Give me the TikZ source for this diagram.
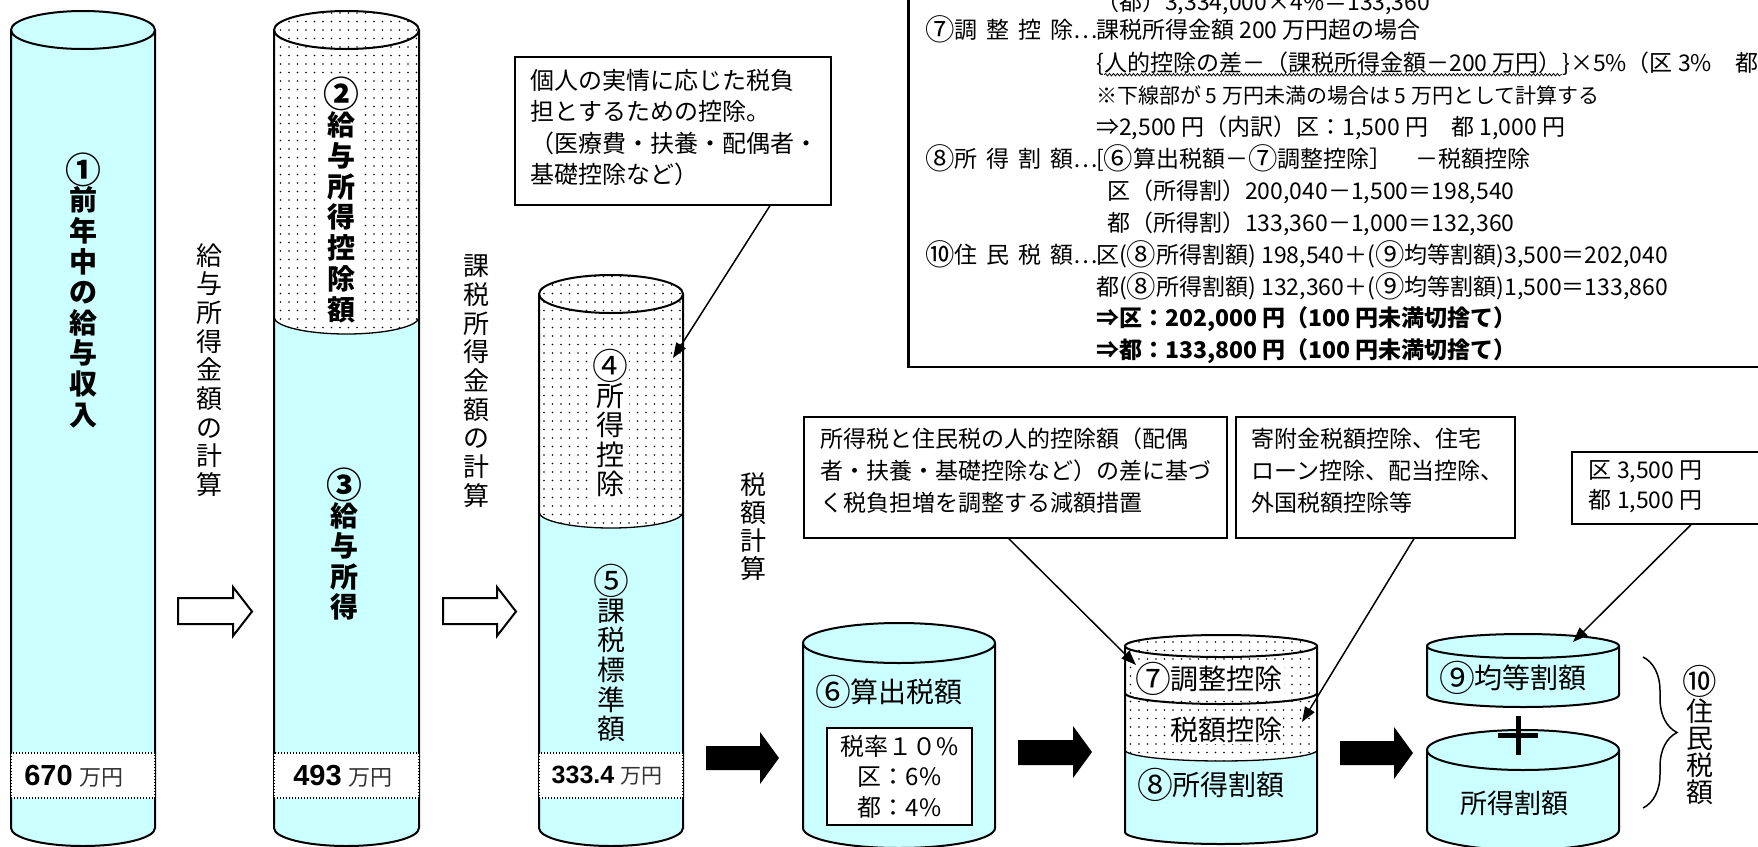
\documentclass[tikz,border=0pt]{standalone}
\usepackage{fontspec}
\setmainfont{Noto Sans CJK JP}
\newfontfamily\arialf{Liberation Sans}
\usetikzlibrary{patterns.meta,arrows.meta,decorations.pathmorphing,decorations.pathreplacing}
\definecolor{cyanc}{RGB}{204,255,255}
\newcommand{\myfs}[2]{\fontsize{#1pt}{#2pt}\selectfont}
\newcommand{\cn}[1]{\raisebox{-0.1em}{\scalebox{1.28}{#1}}}
\newcommand{\cylfill}[7]{\path[#7] ({#1-#2},#3) -- ({#1-#2},#5) arc[start angle=180,end angle=0,x radius=#2,y radius=#6] -- ({#1+#2},#3) arc[start angle=0,end angle=-180,x radius=#2,y radius=#4] -- cycle;}
\newcommand{\cylout}[6]{\draw[cyl] ({#1-#2},#3) -- ({#1-#2},#5) arc[start angle=180,end angle=0,x radius=#2,y radius=#6] -- ({#1+#2},#3);}
\newcommand{\cyltop}[5]{\path[#5] (#1,#3) ellipse[x radius=#2,y radius=#4];}
\newcommand{\cylarc}[5]{\draw[#5] ({#1-#2},#3) arc[start angle=180,end angle=0,x radius=#2,y radius=#4];}
\tikzset{
  cyl/.style={line width=2pt, line join=round},
  cyanf/.style={fill=cyanc},
  dotf/.style={fill=white, postaction={pattern={Dots[distance=8.5pt,radius=0.85pt]}}},
  band/.style={fill=white, draw, line width=1.3pt, dash pattern=on 1.4pt off 1.6pt},
  hollow/.style={draw, line width=2pt, fill=white, line join=miter},
  callout/.style={draw, line width=1.8pt, fill=white, anchor=north west},
  callarr/.style={line width=1.5pt, -{Triangle[length=15pt,width=11pt]}},
  vlabel/.style={align=center, inner sep=1pt},
  hlabel/.style={inner sep=1pt},
  tline/.style={anchor=west, inner sep=0pt, text height=20pt, text depth=3pt, font=\myfs{23}{28}},
}
\begin{document}
\begin{tikzpicture}[x=1pt,y=-1pt]
\useasboundingbox (0,0) rectangle (1758,846);
\clip (0,0) rectangle (1758,846);
\fill[white] (0,0) rectangle (1758,846);

% ---------- cylinder 1
\cylfill{83}{72}{30}{19}{828}{18}{cyanf}
\cyltop{83}{72}{30}{19}{cyanf,cyl,draw}
\cylout{83}{72}{30}{19}{828}{18}
\draw[band] (11,753) rectangle (155,798);
\node[vlabel, font=\myfs{28}{30.6}\bfseries] (l1) at (83,290) {\cn{①}\\前\\年\\中\\の\\給\\与\\収\\入};
\node (v1) at (74,776) {{\arialf\bfseries\myfs{29}{30}670}\hspace{7pt}{\myfs{22}{24}\color{black!80}万円}};

% ---------- cylinder 2
\cylfill{346.5}{72.5}{317}{17}{828}{18}{cyanf}
\cylfill{346.5}{72.5}{30}{19}{317}{17}{dotf}
\cyltop{346.5}{72.5}{30}{19}{dotf,cyl,draw}
\cylout{346.5}{72.5}{30}{19}{828}{18}
\cylarc{346.5}{72.5}{317}{17}{line width=1.3pt}
\draw[band] (274,753) rectangle (419,798);
\node[vlabel, fill=white, font=\myfs{28}{30.8}\bfseries] (l2) at (341,200) {\cn{②}\\給\\与\\所\\得\\控\\除\\額};
\node[vlabel, font=\myfs{28}{30.4}\bfseries] (l3) at (344,544) {\cn{③}\\給\\与\\所\\得};
\node (v2) at (343,776) {{\arialf\bfseries\myfs{29}{30}493}\hspace{7pt}{\myfs{22}{24}\color{black!80}万円}};

% ---------- cylinder 3
\cylfill{611}{72}{512}{16}{828}{18}{cyanf}
\cylfill{611}{72}{294}{19}{512}{16}{dotf}
\cyltop{611}{72}{294}{19}{dotf,cyl,draw}
\cylout{611}{72}{294}{19}{828}{18}
\cylarc{611}{72}{512}{16}{line width=1.3pt}
\draw[band] (539,753) rectangle (683,798);
\node[vlabel, fill=white, font=\myfs{28}{29.4}] (l4) at (610,423) {\cn{④}\\所\\得\\控\\除};
\node[vlabel, font=\myfs{28}{29.6}] (l5) at (611,653) {\cn{⑤}\\課\\税\\標\\準\\額};
\node (v3) at (607,776) {{\arialf\bfseries\myfs{25}{26}333.4}\hspace{6pt}{\myfs{21}{24}\color{black!80}万円}};

% ---------- vertical captions
\node[vlabel, font=\myfs{26}{28.7}] (t1) at (209,370) {給\\与\\所\\得\\金\\額\\の\\計\\算};
\node[vlabel, font=\myfs{26}{28.7}] (t2) at (476,381) {課\\税\\所\\得\\金\\額\\の\\計\\算};
\node[vlabel, font=\myfs{26}{28}] (t3) at (753,527) {税\\額\\計\\算};

% ---------- hollow arrows
\draw[hollow] (178,598) -- (233,598) -- (233,587) -- (252,611.5) -- (233,636) -- (233,624) -- (178,624) -- cycle;
\draw[hollow] (443,598) -- (497,598) -- (497,587) -- (516,611.5) -- (497,636) -- (497,624) -- (443,624) -- cycle;

% ---------- black arrows
\fill (706,746) -- (760,746) -- (760,732) -- (779,758) -- (760,784) -- (760,770) -- (706,770) -- cycle;
\fill (1018,740) -- (1073,740) -- (1073,726) -- (1092,752) -- (1073,778) -- (1073,765) -- (1018,765) -- cycle;
\fill (1340,741) -- (1394,741) -- (1394,727) -- (1413,753) -- (1394,779) -- (1394,765) -- (1340,765) -- cycle;

% ---------- cylinder 6
\cylfill{899}{96}{643}{20}{828}{20}{cyanf}
\cyltop{899}{96}{643}{20}{cyanf,cyl,draw}
\cylout{899}{96}{643}{20}{828}{20}
\node[hlabel, font=\myfs{28}{30}] (l6) at (889,692) {\cn{⑥}算出税額};
\node[draw, line width=1.2pt, fill=white, minimum width=145pt, minimum height=97pt, align=center, font=\myfs{24}{30.5}] (rate) at (899.5,776.5) {税率１０\%\\区：6\%\\都：4\%};

% ---------- cylinder 7/8
\cylfill{1221}{96}{750}{11}{832}{12}{cyanf}
\cylfill{1221}{96}{693}{11}{750}{11}{dotf}
\cylfill{1221}{96}{646}{11}{693}{11}{dotf}
\cyltop{1221}{96}{646}{11}{dotf,cyl,draw}
\cylout{1221}{96}{646}{11}{832}{12}
\cylarc{1221}{96}{693}{11}{line width=2pt}
\cylarc{1221}{96}{750}{11}{line width=1.3pt}
\node[hlabel, fill=white, font=\myfs{28}{30}] (l7) at (1209,679) {\cn{⑦}調整控除};
\node[hlabel, fill=white, font=\myfs{28}{30}] (lz) at (1226,730) {税額控除};
\node[hlabel, font=\myfs{28}{30}] (l8) at (1211,785) {\cn{⑧}所得割額};

% ---------- cylinder 9 and lower
\cylfill{1523}{96}{646}{12}{695}{12}{cyanf}
\cyltop{1523}{96}{646}{12}{cyanf,cyl,draw}
\cylout{1523}{96}{646}{12}{695}{12}
\node[hlabel, font=\myfs{28}{30}] (l9) at (1513,678) {\cn{⑨}均等割額};
\cylfill{1523}{96}{750}{20}{830}{20}{cyanf}
\cyltop{1523}{96}{750}{20}{cyanf,cyl,draw}
\cylout{1523}{96}{750}{20}{830}{20}
\node[hlabel, font=\myfs{27}{30}] (lw) at (1514,803) {所得割額};
\draw[line width=5pt] (1518,716) -- (1518,755);
\draw[line width=5pt] (1498,735) -- (1538,735);

% brace and total
\draw[line width=1.5pt, decorate, decoration={brace, amplitude=34pt}] (1643,657) -- (1643,808);
\node[vlabel, font=\myfs{27}{27.2}] (l10) at (1700,735) {\cn{⑩}\\住\\民\\税\\額};

% ---------- callouts
\node[callout, inner xsep=16pt, inner ysep=12pt] (c1) at (514,56) {\parbox[t][124pt][t]{284pt}{\raggedright\myfs{24}{31.5}個人の実情に応じた税負\\担とするための控除。\\（医療費・扶養・配偶者・\\基礎控除など）}};
\node[callout, inner xsep=17pt, inner ysep=11pt] (c2) at (803,416) {\parbox[t][99pt][t]{389pt}{\raggedright\myfs{23}{32}所得税と住民税の人的控除額（配偶\\者・扶養・基礎控除など）の差に基づ\\く税負担増を調整する減額措置}};
\node[callout, inner xsep=15.5pt, inner ysep=11pt] (c3) at (1235,416) {\parbox[t][99pt][t]{248pt}{\raggedright\myfs{23}{32}寄附金税額控除、住宅\\ローン控除、配当控除、\\外国税額控除等}};
\node[callout, inner xsep=17pt, inner ysep=9pt] (c4) at (1571,451) {\parbox[t][54pt][t]{175pt}{\raggedright\myfs{23}{30}区 3,500 円\\都 1,500 円}};

\coordinate (p1) at (673,358);
\coordinate (p2) at (1136,665);
\coordinate (p3) at (1302,722);
\coordinate (p4) at (1573,642);
\draw[callarr] ([xshift=97pt]c1.south) -- (p1);
\draw[callarr] ([xshift=-6.5pt]c2.south) -- (p2);
\draw[callarr] ([xshift=38.5pt]c3.south) -- (p3);
\draw[callarr] ([xshift=14.5pt]c4.south) -- (p4);

% ---------- big text box
\node[draw, line width=2.5pt, minimum width=880pt, minimum height=380pt, anchor=south west, inner sep=0pt] (tbox) at (907,368) {};
\node[tline] (r0) at (1096,2) {（都）3,334,000×4\%＝133,360};
\node[tline] (r1a) at (925,30) {\cn{⑦}調\hspace{9pt}整\hspace{9pt}控\hspace{9pt}除…};
\node[tline] (r1b) at (1096,30) {課税所得金額 200 万円超の場合};
\node[tline] (r2a) at (1096,63) {\{};
\node[tline] (r2b) at (r2a.east) {人的控除の差－（課税所得金額－200 万円）};
\node[tline] (r2c) at (r2b.east) {\}×5\%（区 3\%　都};
\draw[line width=0.8pt, decorate, decoration={snake, amplitude=1.2pt, segment length=4pt}] (r2b.south west) -- (r2b.south east);
\node[tline, font=\myfs{21}{26}] (r3) at (1096,95) {※下線部が 5 万円未満の場合は 5 万円として計算する};
\node[tline] (r4) at (1096,127) {⇒2,500 円（内訳）区：1,500 円　都 1,000 円};
\node[tline] (r5a) at (925,159) {\cn{⑧}所\hspace{9pt}得\hspace{9pt}割\hspace{9pt}額…};
\node[tline] (r5b) at (1096,159) {[\cn{⑥}算出税額－\cn{⑦}調整控除］　－税額控除};
\node[tline] (r6) at (1107,191) {区（所得割）200,040－1,500＝198,540};
\node[tline] (r7) at (1107,223) {都（所得割）133,360－1,000＝132,360};
\node[tline] (r8a) at (925,255) {\cn{⑩}住\hspace{9pt}民\hspace{9pt}税\hspace{9pt}額…};
\node[tline] (r8b) at (1096,255) {区(\cn{⑧}所得割額) 198,540＋(\cn{⑨}均等割額)3,500＝202,040};
\node[tline] (r9) at (1096,287) {都(\cn{⑧}所得割額) 132,360＋(\cn{⑨}均等割額)1,500＝133,860};
\node[tline, font=\myfs{23}{28}\bfseries] (r10) at (1096,318) {⇒区：202,000 円（100 円未満切捨て）};
\node[tline, font=\myfs{23}{28}\bfseries] (r11) at (1096,350) {⇒都：133,800 円（100 円未満切捨て）};
\end{tikzpicture}
\end{document}
